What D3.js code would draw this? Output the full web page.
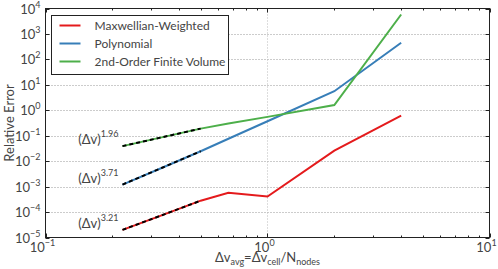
<!DOCTYPE html>
<html>
<head>
<meta charset="utf-8">
<script src="https://cdn.jsdelivr.net/npm/d3@7"></script>
<style>
  body { margin: 0; background: #fff; }
  svg text { font-family: Lato, "Open Sans", sans-serif; fill: #444; }
</style>
</head>
<body>
<div id="chart"></div>
<script>
// x = dv_cell / N_nodes
var xVals = [0.2222, 0.3333, 0.5, 0.6667, 1, 2, 4];
var maxwellian = [2.0e-5, 7.4e-5, 2.8e-4, 5.7e-4, 4.1e-4, 0.026, 0.62];
var polynomial = [1.2e-3, 5.4e-3, 0.0246, 0.076, 0.37, 5.6, 450];
var finiteVol = [0.039, 0.086, 0.19, 0.30, 0.55, 1.6, 5800];
var seriesNames = ["Maxwellian-Weighted", "Polynomial", "2nd-Order Finite Volume"];
var colors = ["#e41a1c", "#377eb8", "#4daf4a"];
// fitted slopes, shown on the first three points
var fitOrders = ["3.21", "3.71", "1.96"];
var yExps = [-5, -4, -3, -2, -1, 0, 1, 2, 3, 4];
var xExps = [-1, 0, 1];

var w = 498, h = 269;
var pLeft = 45.5, pRight = 489.5, pTop = 8.5, pBottom = 237.5;

var svg = d3.select("#chart").append("svg")
  .attr("width", w)
  .attr("height", h);

var xScale = d3.scaleLog().domain([0.1, 10]).range([pLeft, pRight]);
var yScale = d3.scaleLog().domain([1e-5, 1e4]).range([pBottom, pTop]);

// grid
svg.selectAll(".ygrid")
  .data(yExps.slice(1, -1))
  .enter().append("line")
  .attr("x1", pLeft).attr("x2", pRight)
  .attr("y1", (d) => Math.round(yScale(Math.pow(10, d))) + 0.5)
  .attr("y2", (d) => Math.round(yScale(Math.pow(10, d))) + 0.5)
  .attr("stroke", "#999")
  .attr("stroke-dasharray", "1,2");
svg.append("line")
  .attr("x1", Math.round(xScale(1)) + 0.5).attr("x2", Math.round(xScale(1)) + 0.5)
  .attr("y1", pTop).attr("y2", pBottom)
  .attr("stroke", "#bbb")
  .attr("stroke-dasharray", "1,2");

// ticks (inward)
var minorX = [];
[0.1, 1].forEach((b) => { for (var k = 2; k < 10; k++) minorX.push(b * k); });
var tickG = svg.append("g").attr("stroke", "#222");
minorX.forEach((v) => {
  var x = Math.round(xScale(v)) + 0.5;
  tickG.append("line").attr("x1", x).attr("x2", x).attr("y1", pBottom).attr("y2", pBottom - 2);
  tickG.append("line").attr("x1", x).attr("x2", x).attr("y1", pTop).attr("y2", pTop + 2);
});
xExps.forEach((e) => {
  var x = Math.round(xScale(Math.pow(10, e))) + 0.5;
  tickG.append("line").attr("x1", x).attr("x2", x).attr("y1", pBottom).attr("y2", pBottom - 4);
  tickG.append("line").attr("x1", x).attr("x2", x).attr("y1", pTop).attr("y2", pTop + 4);
});
yExps.forEach((e) => {
  var y = Math.round(yScale(Math.pow(10, e))) + 0.5;
  tickG.append("line").attr("x1", pLeft).attr("x2", pLeft + 4).attr("y1", y).attr("y2", y);
  tickG.append("line").attr("x1", pRight).attr("x2", pRight - 4).attr("y1", y).attr("y2", y);
});

// tick labels
function powLabel(sel, exp) {
  sel.append("tspan").text("10");
  sel.append("tspan").attr("dy", -6).attr("font-size", 9).text(exp < 0 ? "\u2212" + (-exp) : exp);
}
yExps.forEach((e) => {
  var t = svg.append("text")
    .attr("x", pLeft - 5)
    .attr("y", yScale(Math.pow(10, e)) + 5)
    .attr("text-anchor", "end")
    .attr("font-size", 13);
  powLabel(t, e);
});
xExps.forEach((e) => {
  var t = svg.append("text")
    .attr("x", xScale(Math.pow(10, e)) - 3)
    .attr("y", pBottom + 14)
    .attr("text-anchor", "middle")
    .attr("font-size", 13);
  powLabel(t, e);
});

// lines
var line = d3.line()
  .x((d) => xScale(d[0]))
  .y((d) => yScale(d[1]));
var allSeries = [maxwellian, polynomial, finiteVol];
allSeries.forEach((s, i) => {
  var pts = xVals.map((x, j) => [x, s[j]]);
  svg.append("path")
    .attr("d", line(pts))
    .attr("fill", "none")
    .attr("stroke", colors[i])
    .attr("stroke-width", 2);
  // dashed fit overlay
  svg.append("path")
    .attr("d", line(pts.slice(0, 3)))
    .attr("fill", "none")
    .attr("stroke", "#000")
    .attr("stroke-width", 2)
    .attr("stroke-dasharray", "4,3");
  var lab = svg.append("text")
    .attr("x", xScale(xVals[0]) - 4)
    .attr("y", yScale(s[0]) - 2)
    .attr("text-anchor", "end")
    .attr("font-size", 13);
  lab.append("tspan").text("(\u0394v)");
  lab.append("tspan").attr("dy", -7).attr("font-size", 9).text(fitOrders[i]);
});

// frame
svg.append("rect")
  .attr("x", pLeft).attr("y", pTop)
  .attr("width", pRight - pLeft).attr("height", pBottom - pTop)
  .attr("fill", "none")
  .attr("stroke", "#222");

// legend
var lg = svg.append("g").attr("transform", "translate(51.5,15.5)");
lg.append("rect")
  .attr("width", 177).attr("height", 59)
  .attr("fill", "#fff")
  .attr("stroke", "#222");
seriesNames.forEach((name, i) => {
  var y = 10 + i * 18;
  lg.append("line")
    .attr("x1", 8).attr("x2", 29).attr("y1", y).attr("y2", y)
    .attr("stroke", colors[i]).attr("stroke-width", 2);
  lg.append("text")
    .attr("x", 43).attr("y", y + 4.5)
    .attr("font-size", 12)
    .text(name);
});

// axis titles
svg.append("text")
  .attr("transform", "translate(14," + ((pTop + pBottom) / 2) + ") rotate(-90)")
  .attr("text-anchor", "middle")
  .attr("font-size", 13)
  .text("Relative Error");

var xt = svg.append("text")
  .attr("x", xScale(1))
  .attr("y", 262)
  .attr("text-anchor", "middle")
  .attr("font-size", 13);
xt.append("tspan").text("\u0394v");
xt.append("tspan").attr("dy", 3).attr("font-size", 9).text("avg");
xt.append("tspan").attr("dy", -3).text("=\u0394v");
xt.append("tspan").attr("dy", 3).attr("font-size", 9).text("cell");
xt.append("tspan").attr("dy", -3).text("/N");
xt.append("tspan").attr("dy", 3).attr("font-size", 9).text("nodes");
</script>
</body>
</html>
